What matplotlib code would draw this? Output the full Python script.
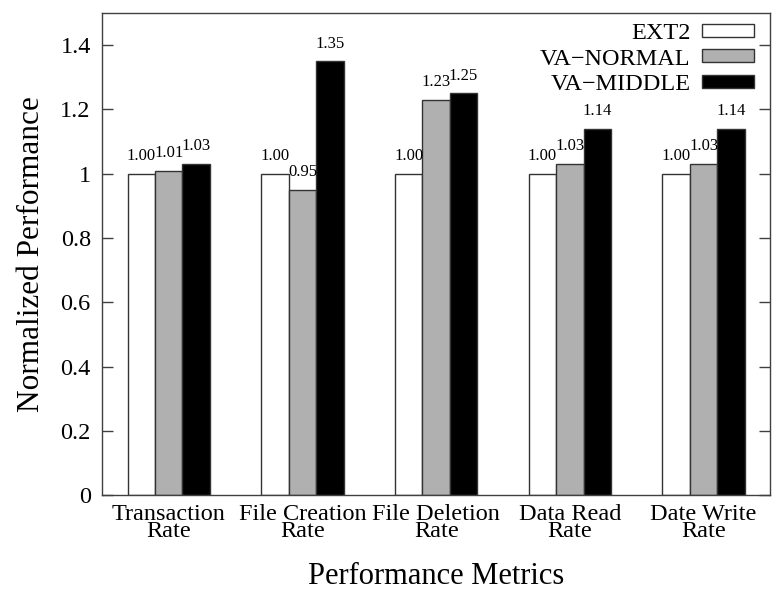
import numpy as np
import matplotlib
matplotlib.use("Agg")
import matplotlib.pyplot as plt
from matplotlib.ticker import FuncFormatter

# ======================
# Data
# ======================
metrics = ["Transaction\nRate", "File Creation\nRate", "File Deletion\nRate",
           "Data Read\nRate", "Date Write\nRate"]
series_names = ["EXT2", "VA\u2212NORMAL", "VA\u2212MIDDLE"]
ext2 = [1.00, 1.00, 1.00, 1.00, 1.00]
va_normal = [1.01, 0.95, 1.23, 1.03, 1.03]
va_middle = [1.03, 1.35, 1.25, 1.14, 1.14]

# ======================
# Style
# ======================
plt.rcParams["font.family"] = ["Liberation Serif", "DejaVu Serif"]

fills = ["white", "#b0b0b0", "black"]
edge = "#333333"
spine_c = "#404040"
bar_w = 0.205

fig = plt.figure(figsize=(7.72, 5.91), dpi=100)
ax = fig.add_axes([0.132, 0.162, 0.866, 0.816])

x = np.arange(len(metrics))
all_vals = [ext2, va_normal, va_middle]
for i, (vals, name) in enumerate(zip(all_vals, series_names)):
    pos = x + (i - 1) * bar_w
    ax.bar(pos, vals, width=bar_w, color=fills[i], edgecolor=edge,
           linewidth=1.0, label=name, zorder=2)
    for px, v in zip(pos, vals):
        ax.annotate(f"{v:.2f}", (px, v), xytext=(0, 7), textcoords="offset points",
                    ha="center", va="bottom", fontsize=12)

ax.set_xlim(-0.5, len(metrics) - 0.5)
ax.set_ylim(0, 1.5)
ax.set_yticks(np.arange(0, 1.41, 0.2))
ax.yaxis.set_major_formatter(FuncFormatter(lambda v, p: f"{v:g}"))
ax.set_xticks(x)
ax.set_xticklabels(metrics, fontsize=17.5, linespacing=0.8)

ax.tick_params(axis="y", direction="in", length=8, width=1, color=spine_c,
               labelsize=17.5, pad=8, right=True)
ax.tick_params(axis="x", length=0, pad=6)

for s in ax.spines.values():
    s.set_color(spine_c)
    s.set_linewidth(1.0)

ax.set_ylabel("Normalized Performance", fontsize=22.5, labelpad=10)
ax.set_xlabel("Performance Metrics", fontsize=22, labelpad=14)

leg = ax.legend(loc="upper right", frameon=False, markerfirst=False,
                fontsize=17.5, handlelength=2.15, handleheight=0.45,
                labelspacing=0.2, handletextpad=0.45,
                borderaxespad=0.0, bbox_to_anchor=(0.99, 1.0))

fig.savefig("out.png", dpi=100)
